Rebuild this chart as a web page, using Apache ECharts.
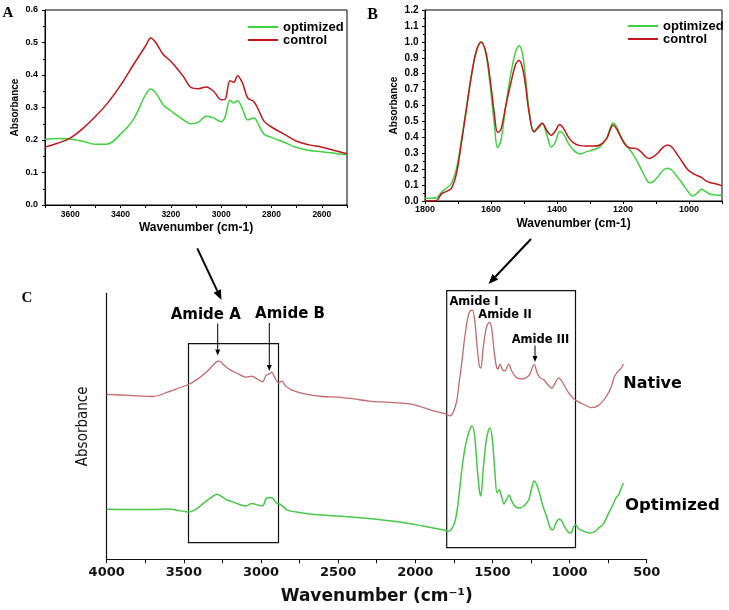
<!DOCTYPE html>
<html><head><meta charset="utf-8">
<script src="https://cdn.jsdelivr.net/npm/echarts@6/dist/echarts.min.js"></script>
<style>html,body{margin:0;padding:0;background:#fff}#c{width:729px;height:610px}</style>
</head><body><div id="c"></div>
<script>
// ---------- Panel A (3700-2500 cm-1) ----------
const A_wn   = [3700,3650,3600,3550,3500,3450,3400,3350,3300,3280,3260,3230,3200,3150,3120,3090,3060,3030,3000,2985,2965,2950,2935,2915,2895,2870,2850,2830,2800,2750,2700,2650,2600,2550,2500];
const A_ctrl = [0.178,0.19,0.206,0.235,0.272,0.315,0.368,0.43,0.49,0.514,0.5,0.463,0.442,0.395,0.362,0.358,0.363,0.35,0.324,0.325,0.382,0.378,0.398,0.375,0.33,0.318,0.29,0.258,0.24,0.218,0.196,0.185,0.178,0.168,0.158];
const A_opt  = [0.202,0.205,0.203,0.196,0.187,0.188,0.218,0.262,0.34,0.357,0.345,0.308,0.29,0.262,0.25,0.255,0.273,0.268,0.256,0.27,0.322,0.314,0.321,0.295,0.262,0.268,0.245,0.218,0.208,0.193,0.177,0.168,0.164,0.159,0.154];

// ---------- Panel B (1800-900 cm-1) ----------
const B_wn   = [1800,1780,1765,1750,1735,1720,1705,1690,1675,1660,1645,1630,1615,1600,1590,1580,1570,1555,1540,1525,1515,1505,1495,1485,1470,1455,1445,1430,1418,1405,1392,1380,1365,1350,1330,1310,1290,1270,1250,1240,1230,1220,1205,1190,1175,1160,1145,1130,1120,1110,1095,1080,1065,1050,1035,1020,1005,990,975,962,950,935,920,900];
const B_opt  = [0.017,0.017,0.02,0.055,0.08,0.11,0.2,0.38,0.58,0.78,0.93,1.0,0.92,0.68,0.48,0.335,0.38,0.6,0.8,0.94,0.976,0.93,0.77,0.58,0.44,0.46,0.488,0.41,0.34,0.37,0.436,0.42,0.36,0.32,0.296,0.31,0.322,0.34,0.395,0.45,0.49,0.47,0.4,0.35,0.31,0.26,0.2,0.14,0.115,0.12,0.15,0.19,0.205,0.19,0.15,0.11,0.065,0.032,0.05,0.074,0.06,0.042,0.038,0.036];
const B_ctrl = [0.0,0.002,0.003,0.045,0.06,0.08,0.17,0.36,0.57,0.78,0.94,0.997,0.93,0.72,0.55,0.43,0.45,0.6,0.74,0.86,0.882,0.84,0.72,0.56,0.433,0.47,0.488,0.44,0.413,0.44,0.48,0.455,0.4,0.365,0.348,0.345,0.345,0.352,0.39,0.44,0.478,0.455,0.395,0.345,0.332,0.33,0.308,0.275,0.267,0.275,0.3,0.335,0.352,0.335,0.29,0.245,0.2,0.175,0.16,0.148,0.128,0.115,0.108,0.095];

// ---------- Panel C (4000-650 cm-1, offset spectra, arbitrary units) ----------
const C_nat_wn = [4000,3850,3700,3600,3530,3470,3400,3340,3290,3270,3240,3200,3150,3100,3060,3020,2990,2965,2945,2930,2910,2885,2865,2840,2800,2700,2600,2500,2400,2300,2200,2100,2000,1900,1800,1775,1750,1730,1715,1700,1680,1660,1645,1630,1615,1600,1585,1575,1560,1540,1520,1505,1490,1475,1465,1450,1435,1420,1395,1375,1350,1320,1290,1260,1240,1228,1210,1190,1165,1140,1115,1090,1070,1050,1025,1000,970,940,900,860,820,790,760,730,710,690,670,650];
const C_native = [62.0,61.6,61.2,62.9,64.4,65.7,68.2,71.2,74.2,74.5,73.0,71.2,69.8,68.5,68.9,67.6,66.7,69.3,69.7,70.4,68.2,66.3,67.0,65.2,63.6,62.0,61.2,61.0,60.3,59.5,59.1,58.8,58.0,56.1,54.6,53.9,55.8,59.9,66.7,73.1,83.2,90.7,93.3,93.7,90.0,80.6,72.7,71.9,79.4,86.9,89.2,86.9,78.7,72.7,71.5,73.4,71.2,70.8,73.4,70.8,68.6,67.8,68.0,69.3,72.3,73.2,70.0,68.2,67.4,65.6,64.4,66.7,68.2,67.0,64.4,62.1,60.3,59.1,58.0,57.0,57.6,59.1,61.4,64.8,68.6,70.4,71.5,73.4];
const C_opt_wn = [4000,3850,3700,3600,3530,3470,3420,3370,3320,3285,3260,3220,3180,3130,3100,3060,3020,2990,2965,2945,2925,2900,2880,2860,2830,2750,2650,2500,2300,2100,1950,1850,1780,1760,1740,1720,1700,1680,1660,1640,1630,1615,1600,1585,1575,1560,1540,1525,1515,1500,1485,1470,1455,1440,1425,1410,1392,1375,1350,1320,1290,1265,1245,1230,1215,1195,1175,1150,1125,1110,1090,1070,1055,1035,1010,990,975,960,940,910,870,840,810,780,750,720,700,680,665,650];
const C_optimized = [18.8,18.7,18.7,18.9,18.3,17.8,18.9,21.2,23.4,24.5,23.8,22.3,21.5,20.4,20.0,21.0,20.4,20.0,23.0,23.2,23.0,21.2,20.8,20.0,18.5,17.6,16.8,16.3,15.3,14.0,12.5,11.4,10.6,11.8,14.8,22.3,32.8,41.1,46.4,49.7,50.1,46.4,35.5,26.1,23.8,33.6,44.8,48.6,49.4,44.8,33.6,25.0,26.1,23.4,20.8,22.3,24.2,21.9,19.7,19.3,20.4,22.3,26.8,29.4,28.3,24.9,20.4,16.3,11.8,11.0,13.3,15.1,14.8,12.5,10.3,9.9,12.1,12.9,11.4,10.6,9.9,10.3,11.8,13.3,17.0,20.4,23.0,24.5,26.8,28.7];

const pairs = (x, y) => x.map((w, i) => [w, y[i]]);

const GREEN = '#3fd23f', RED = '#c0181c';
const C_RED = '#c46a6e', C_GREEN = '#48c848';
const SANS = "'Liberation Sans', Arial, sans-serif";
const DJB = "'DejaVu Sans', sans-serif";

function arrow(x1, y1, x2, y2, lw, hl, hw) {
  const dx = x2 - x1, dy = y2 - y1, L = Math.hypot(dx, dy), ux = dx / L, uy = dy / L;
  const bx = x2 - ux * hl, by = y2 - uy * hl, px = -uy, py = ux;
  return [
    {type: 'line', silent: true, shape: {x1, y1, x2: bx, y2: by}, style: {stroke: '#000', lineWidth: lw}},
    {type: 'polygon', silent: true, shape: {points: [[x2, y2], [bx + px * hw / 2, by + py * hw / 2], [bx - px * hw / 2, by - py * hw / 2]]}, style: {fill: '#000'}}
  ];
}
function txt(x, y, text, font, align) {
  return {type: 'text', silent: true, x, y, style: {text, font, fill: '#000', align: align || 'center', verticalAlign: 'middle'}};
}

const smallAxis = (fs, margin) => ({
  axisLine: {show: true, lineStyle: {color: '#000', width: 1}},
  axisTick: {show: true, inside: false, length: 3, lineStyle: {color: '#000'}},
  splitLine: {show: false},
  axisLabel: {color: '#000', fontSize: fs, fontWeight: 'bold', fontFamily: SANS, margin}
});

const chart = echarts.init(document.getElementById('c'), null, {renderer: 'canvas'});
const legendStyle = {fontSize: 13, fontWeight: 'bold', fontFamily: SANS, color: '#000', lineHeight: 12.5};

chart.setOption({
  animation: false,
  backgroundColor: '#fff',
  grid: [
    {left: 45, top: 10, width: 302, height: 195, show: true, borderColor: '#000', borderWidth: 1},
    {left: 425, top: 10, width: 297, height: 191, show: true, borderColor: '#000', borderWidth: 1},
    {left: 106.7, top: 293.3, width: 540, height: 266}
  ],
  legend: [
    {data: ['optimized', 'control'], orient: 'vertical', left: 243, top: 15.5, icon: 'rect', itemWidth: 30, itemHeight: 2, itemGap: 0, textStyle: legendStyle},
    {data: ['optimized', 'control'], orient: 'vertical', left: 623, top: 14.5, icon: 'rect', itemWidth: 30, itemHeight: 2, itemGap: 0, textStyle: legendStyle}
  ],
  xAxis: [
    Object.assign(smallAxis(8.5, 5), {
      gridIndex: 0, type: 'value', inverse: true, min: 2500, max: 3700, interval: 100,
      axisLabel: {color: '#000', fontSize: 8.5, fontWeight: 'bold', fontFamily: SANS, margin: 5, interval: 0,
        formatter: v => (v % 200 === 0 ? String(v) : '')},
      name: 'Wavenumber (cm-1)', nameLocation: 'middle', nameGap: 17,
      nameTextStyle: {fontSize: 12, fontWeight: 'bold', fontFamily: SANS, color: '#000'}
    }),
    Object.assign(smallAxis(9, 4.5), {
      gridIndex: 1, type: 'value', inverse: true, min: 900, max: 1800, interval: 100,
      axisLabel: {color: '#000', fontSize: 9, fontWeight: 'bold', fontFamily: SANS, margin: 4.5, interval: 0,
        formatter: v => (v % 200 === 0 ? String(v) : '')},
      name: 'Wavenumber (cm-1)', nameLocation: 'middle', nameGap: 17,
      nameTextStyle: {fontSize: 12, fontWeight: 'bold', fontFamily: SANS, color: '#000'}
    }),
    {
      gridIndex: 2, type: 'value', inverse: true, min: 500, max: 4000, interval: 250,
      axisLine: {show: true, lineStyle: {color: '#111', width: 1.2}},
      axisTick: {show: true, inside: false, length: 4, lineStyle: {color: '#111'}},
      splitLine: {show: false},
      axisLabel: {color: '#111', fontSize: 13, fontWeight: 'bold', fontFamily: DJB, margin: 7, interval: 0,
        formatter: v => (v % 500 === 0 ? String(v) : '')},
      name: 'Wavenumber (cm\u207B\u00B9)', nameLocation: 'middle', nameGap: 29,
      nameTextStyle: {fontSize: 17, fontWeight: 'bold', fontFamily: DJB, color: '#111'}
    }
  ],
  yAxis: [
    Object.assign(smallAxis(9, 7), {
      gridIndex: 0, type: 'value', min: 0, max: 0.6, interval: 0.1,
      minorTick: {show: true, splitNumber: 2, length: 2, lineStyle: {color: '#000'}},
      axisLabel: {color: '#000', fontSize: 9, fontWeight: 'bold', fontFamily: SANS, margin: 7, formatter: v => v.toFixed(1)},
      name: 'Absorbance', nameLocation: 'middle', nameGap: 25,
      nameTextStyle: {fontSize: 10, fontWeight: 'bold', fontFamily: SANS, color: '#000'}
    }),
    Object.assign(smallAxis(10, 6.5), {
      gridIndex: 1, type: 'value', min: 0, max: 1.2, interval: 0.1,
      minorTick: {show: true, splitNumber: 2, length: 2, lineStyle: {color: '#000'}},
      axisLabel: {color: '#000', fontSize: 10, fontWeight: 'bold', fontFamily: SANS, margin: 6.5, formatter: v => v.toFixed(1)},
      name: 'Absorbance', nameLocation: 'middle', nameGap: 26,
      nameTextStyle: {fontSize: 10, fontWeight: 'bold', fontFamily: SANS, color: '#000'}
    }),
    {
      gridIndex: 2, type: 'value', min: 0, max: 100,
      axisLine: {show: true, lineStyle: {color: '#111', width: 1.2}},
      axisTick: {show: false}, axisLabel: {show: false}, splitLine: {show: false},
      name: 'Absorbance', nameLocation: 'middle', nameGap: 16,
      nameTextStyle: {fontSize: 15, fontFamily: "'Liberation Sans Narrow', 'DejaVu Sans Condensed', 'Liberation Sans', sans-serif", color: '#111'}
    }
  ],
  series: [
    {name: 'optimized', type: 'line', xAxisIndex: 0, yAxisIndex: 0, data: pairs(A_wn, A_opt), smooth: 0.35, showSymbol: false, lineStyle: {color: GREEN, width: 1.5}, itemStyle: {color: GREEN}},
    {name: 'control', type: 'line', xAxisIndex: 0, yAxisIndex: 0, data: pairs(A_wn, A_ctrl), smooth: 0.35, showSymbol: false, lineStyle: {color: RED, width: 1.5}, itemStyle: {color: RED}},
    {name: 'optimized', type: 'line', xAxisIndex: 1, yAxisIndex: 1, data: pairs(B_wn, B_opt), smooth: 0.35, showSymbol: false, lineStyle: {color: GREEN, width: 1.5}, itemStyle: {color: GREEN}},
    {name: 'control', type: 'line', xAxisIndex: 1, yAxisIndex: 1, data: pairs(B_wn, B_ctrl), smooth: 0.35, showSymbol: false, lineStyle: {color: RED, width: 1.5}, itemStyle: {color: RED}},
    {name: 'Native', type: 'line', xAxisIndex: 2, yAxisIndex: 2, data: pairs(C_nat_wn, C_native), smooth: 0.3, showSymbol: false, lineStyle: {color: C_RED, width: 1.3}},
    {name: 'Optimized', type: 'line', xAxisIndex: 2, yAxisIndex: 2, data: pairs(C_opt_wn, C_optimized), smooth: 0.3, showSymbol: false, lineStyle: {color: C_GREEN, width: 1.5}}
  ],
  graphic: [
    txt(8, 13.5, 'A', "bold 15px 'Liberation Serif', serif"),
    txt(372.5, 14.5, 'B', "bold 16px 'Liberation Serif', serif"),
    txt(27, 298, 'C', "bold 15px 'Liberation Serif', serif"),
    {type: 'rect', silent: true, shape: {x: 188.5, y: 343.7, width: 90, height: 199}, style: {fill: null, stroke: '#111', lineWidth: 1.2}},
    {type: 'rect', silent: true, shape: {x: 446.7, y: 290.7, width: 128.8, height: 257}, style: {fill: null, stroke: '#111', lineWidth: 1.2}},
    ...arrow(197.3, 248.3, 221.5, 300, 2, 10, 8),
    ...arrow(531, 239, 488.5, 284, 2, 10, 8),
    ...arrow(217.7, 323.5, 217.7, 355.5, 1, 6, 5),
    ...arrow(269.3, 323, 269.3, 371, 1, 6, 5),
    ...arrow(535, 345.5, 535, 362, 1, 6, 5),
    txt(205.8, 315, 'Amide A', "bold 15px 'DejaVu Sans', sans-serif"),
    txt(290, 314, 'Amide B', "bold 15px 'DejaVu Sans', sans-serif"),
    txt(474, 301.7, 'Amide I', "bold 11.5px 'DejaVu Sans', sans-serif"),
    txt(505, 315, 'Amide II', "bold 11.5px 'DejaVu Sans', sans-serif"),
    txt(540.5, 340, 'Amide III', "bold 11.5px 'DejaVu Sans', sans-serif"),
    txt(623.3, 384.3, 'Native', "bold 16px 'DejaVu Sans', sans-serif", 'left'),
    txt(625, 505.7, 'Optimized', "bold 16.5px 'DejaVu Sans', sans-serif", 'left')
  ]
});
</script></body></html>
